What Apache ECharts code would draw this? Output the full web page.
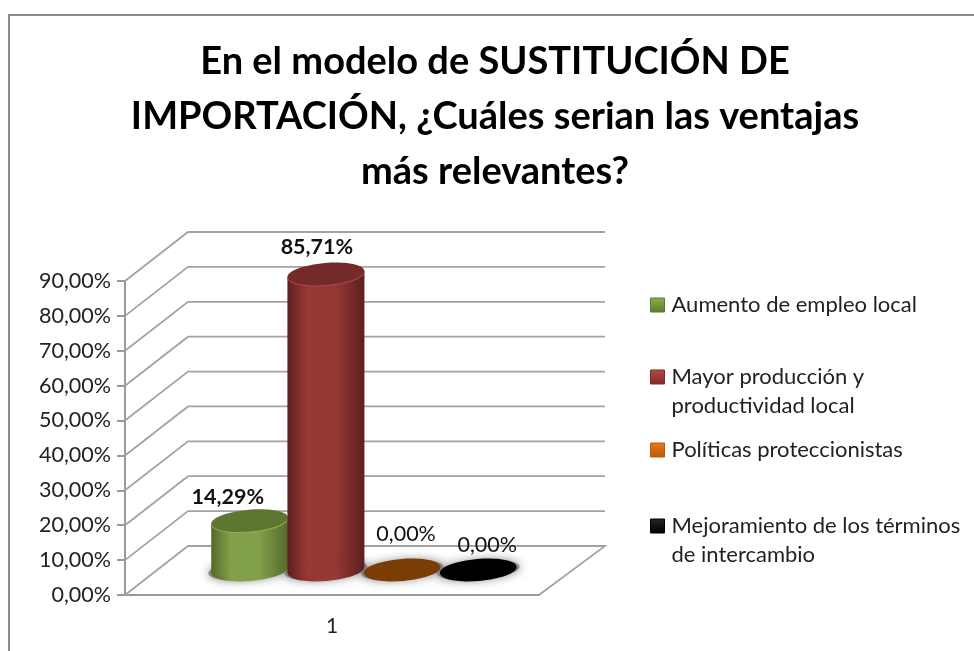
<!DOCTYPE html>
<html><head><meta charset="utf-8">
<style>html,body{margin:0;padding:0;background:#fff}#c{width:974px;height:651px}</style>
<script src="https://cdn.jsdelivr.net/npm/echarts@6/dist/echarts.min.js"></script>
</head><body><div id="c"></div>
<script>
const titleText = 'En el modelo de SUSTITUCIÓN DE\nIMPORTACIÓN, ¿Cuáles serian las ventajas\nmás relevantes?';
const categories = ['1'];
const yTicks = [0,10,20,30,40,50,60,70,80,90];
const seriesNames = ['Aumento de empleo local','Mayor producción y productividad local','Políticas proteccionistas','Mejoramiento de los términos de intercambio'];
const aumentoEmpleo = [14.29];
const mayorProduccion = [85.71];
const politicas = [0];
const mejoramiento = [0];

const FONT = 'Lato';
const DEPTH = {dx:63, dxRight:66, dy:49, midX:32, midY:25, spacing:0.184, rx:38.5, ry:11, tilt:0.085, heightScale:0.99};
const STYLES = [
 {legend:'#8fae4f', legendLo:'#5f7a2e', edge:'#55692b', mid:'#82a04a', top:'#5f7631', rim:'#8fac55', nudge:[-22,-24], bold:true},
 {legend:'#b84a48', legendLo:'#7d2b29', edge:'#5c201f', mid:'#963836', top:'#742a29', rim:'#a84644', nudge:[-9,-27], bold:true},
 {legend:'#e8791c', legendLo:'#b85808', edge:'#7a3e05', mid:'#7a3e05', top:'#7a3e05', rim:'#7a3e05', nudge:[4,-36], bold:false},
 {legend:'#262626', legendLo:'#000000', edge:'#000', mid:'#000', top:'#000', rim:'#000', nudge:[9,-25], bold:false}
];
const LEGEND_POS = [
 {top:290.5, fmt:n=>n},
 {top:333.5, fmt:()=>'\nMayor producción y\nproductividad local'},
 {top:435.5, fmt:n=>n},
 {top:482.5, fmt:()=>'\nMejoramiento de los términos\nde intercambio'}
];

const pct = v => v.toFixed(2).replace('.',',') + '%';

function wallItem(params, api){
  const t = api.value(0), cs = params.coordSys, y = api.coord([0,t])[1];
  const L = cs.x, R = cs.x + cs.width, d = DEPTH;
  const pts = [[L,y],[L+d.dx,y-d.dy],[R+d.dxRight,y-d.dy]];
  if (t === 0) pts.push([R,y]);
  return {type:'polyline', shape:{points:pts}, style:{stroke:'#a3a3a3', lineWidth:1.8, fill:null}};
}

function cylinderItem(idx){
  return function(params, api){
    const s = STYLES[idx], d = DEPTH, cs = params.coordSys;
    const v = api.value(1);
    const band = cs.width / categories.length;
    const cx = api.coord([0,0])[0] + d.midX + (idx - 1.5) * band * d.spacing;
    const y0 = api.coord([0,0])[1];
    const base = y0 - d.midY;
    const top = base - (y0 - api.coord([0,v])[1]) * d.heightScale;
    const off = d.rx * Math.sin(d.tilt);
    const grad = new echarts.graphic.LinearGradient(0,0,1,0,[
      {offset:0,color:s.edge},{offset:0.25,color:s.mid},{offset:0.62,color:s.mid},{offset:1,color:s.edge}]);
    const ell = (cy,rx,ry,style,z2) => ({type:'ellipse', x:cx, y:cy, rotation:d.tilt,
      shape:{cx:0,cy:0,rx:rx,ry:ry}, style:style, z2:z2});
    const kids = [ell(base, d.rx+3, d.ry-1, {fill:'rgba(125,125,125,0.85)', shadowColor:'rgba(110,110,110,1)', shadowBlur:10}, 0)];
    if (v > 0) {
      kids.push({type:'polygon', shape:{points:[[cx-d.rx,top+off],[cx+d.rx,top-off],[cx+d.rx,base-off],[cx-d.rx,base+off]]}, style:{fill:grad}, z2:idx*3+1});
      kids.push(ell(base, d.rx, d.ry, {fill:grad}, idx*3+1));
      kids.push(ell(top+1.2, d.rx, d.ry, {fill:s.rim}, idx*3+2));
    }
    kids.push(ell(top, d.rx, d.ry, {fill:s.top}, idx*3+3));
    kids.push({type:'text', x:cx+s.nudge[0], y:top+s.nudge[1], z2:40,
      style:{text:pct(v), fontFamily:FONT, fontSize:21.5, fontWeight:s.bold?'bold':'normal', fill:'#111', align:'center', verticalAlign:'middle'}});
    return {type:'group', children:kids};
  };
}

const values = [aumentoEmpleo, mayorProduccion, politicas, mejoramiento];
const chart = echarts.init(document.getElementById('c'));
chart.setOption({
  animation:false,
  backgroundColor:'#ffffff',
  title:{text:titleText, left:490, top:29, textAlign:'center',
    textStyle:{fontFamily:FONT, fontSize:38, fontWeight:'bold', color:'#000', lineHeight:55}},
  graphic:[{type:'rect', shape:{x:9,y:15,width:990,height:660}, style:{fill:null, stroke:'#8c8c8c', lineWidth:2}, silent:true}],
  legend: LEGEND_POS.map((p,i)=>({
    data:[seriesNames[i]], left:650, top:p.top, orient:'vertical', icon:'rect', itemWidth:14, itemHeight:14, selectedMode:false, padding:0,
    itemStyle:{color:new echarts.graphic.LinearGradient(0,0,0,1,[{offset:0,color:STYLES[i].legend},{offset:1,color:STYLES[i].legendLo}]), borderColor:STYLES[i].legendLo, borderWidth:1},
    formatter:p.fmt,
    textStyle:{fontFamily:FONT, fontSize:22, color:'#222', lineHeight:29, padding:[0,0,0,2]}
  })),
  grid:{left:125, top:281, width:414, height:314, containLabel:false},
  xAxis:{type:'category', data:categories, axisLine:{lineStyle:{color:'#9a9a9a',width:2}},
    axisTick:{length:8, lineStyle:{color:'#9a9a9a',width:2}},
    axisLabel:{fontFamily:FONT, fontSize:21, color:'#222', margin:21}, splitLine:{show:false}},
  yAxis:{type:'value', min:0, max:90, interval:10, axisLine:{show:true,lineStyle:{color:'#9a9a9a',width:2}},
    axisTick:{show:true,length:8, lineStyle:{color:'#9a9a9a',width:2}},
    axisLabel:{fontFamily:FONT, fontSize:21.5, color:'#222', margin:14, formatter:v=>pct(v)}, splitLine:{show:false}},
  series:[
    {type:'custom', name:'_walls', silent:true, z:1, renderItem:wallItem, data:yTicks.map(t=>[t]), encode:{y:0}},
    ...values.map((arr,i)=>({
      type:'custom', name:seriesNames[i], z:2, renderItem:cylinderItem(i),
      itemStyle:{color:STYLES[i].legend},
      data:arr.map((v,j)=>[j,v]), encode:{x:0,y:1}
    }))
  ]
});
</script></body></html>
